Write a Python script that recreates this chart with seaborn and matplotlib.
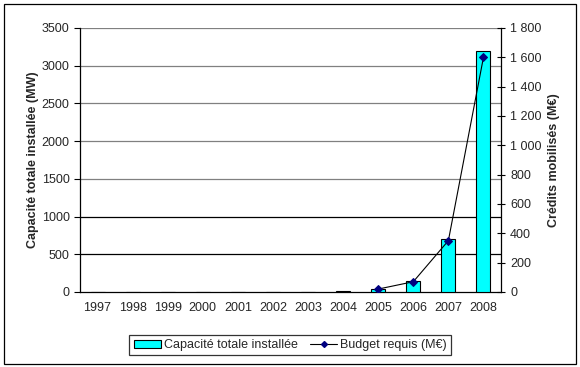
import numpy as np
import pandas as pd
import matplotlib.pyplot as plt
from matplotlib.patches import Patch, Rectangle
from matplotlib.lines import Line2D
import seaborn as sns

# === Data ===
years = ['1997', '1998', '1999', '2000', '2001', '2002',
         '2003', '2004', '2005', '2006', '2007', '2008']
capacity = [0, 0, 0, 0, 0, 6, 6, 10, 40, 140, 700, 3200]          # MW
budget = [np.nan] * 8 + [20, 70, 350, 1600]                        # M€

df = pd.DataFrame({'year': years, 'capacity': capacity, 'budget': budget})
df['pos'] = np.arange(len(df))

sns.set_style('white')
plt.rcParams['font.family'] = ['Liberation Sans', 'DejaVu Sans']

fig = plt.figure(figsize=(5.8, 3.67), dpi=100)
ax = fig.add_axes([80 / 580, (367 - 292) / 367, 421 / 580, 264 / 367])

# === Bars: installed capacity ===
sns.barplot(data=df, x='year', y='capacity', color='#00FFFF', saturation=1,
            edgecolor='black', linewidth=0.8, width=0.4, ax=ax, zorder=3)
ax.set_xlim(-0.5, len(years) - 0.5)
ax.set_ylim(0, 3500)
ax.set_yticks(range(0, 3501, 500))
ax.set_xlabel('')
ax.set_ylabel('Capacité totale installée (MW)', fontsize=9, fontweight='bold', labelpad=2)

# horizontal grid lines
for v in range(500, 3501, 500):
    ax.axhline(v, color='black' if v <= 1000 else '#808080', lw=0.9, zorder=1)

ax.tick_params(axis='x', length=0, labelsize=9, pad=7)
ax.set_xticks(np.arange(-0.5, len(years), 1), minor=True)
ax.tick_params(axis='x', which='minor', length=4, direction='out', color='black')
ax.tick_params(axis='y', length=4, direction='out', labelsize=9, color='black')
for s in ['left', 'bottom']:
    ax.spines[s].set_color('black')
    ax.spines[s].set_linewidth(0.9)
for s in ['top', 'right']:
    ax.spines[s].set_visible(False)

# === Line: required budget ===
ax2 = ax.twinx()
sns.lineplot(data=df, x='pos', y='budget', color='black', lw=0.8,
             marker='D', markersize=4, markerfacecolor='#000080',
             markeredgecolor='#000080', ax=ax2, zorder=4)
ax2.set_ylim(0, 1800)
ax2.set_yticks(range(0, 1801, 200))
ax2.set_yticklabels([f'{v:,}'.replace(',', ' ') for v in range(0, 1801, 200)])
ax2.set_ylabel('Crédits mobilisés (M€)', fontsize=9, fontweight='bold', labelpad=5)
ax2.tick_params(axis='y', length=6, direction='inout', labelsize=9, color='black')
ax2.spines['right'].set_color('black')
ax2.spines['right'].set_linewidth(0.9)
for s in ['top', 'left', 'bottom']:
    ax2.spines[s].set_visible(False)

# === Legend ===
handles = [Patch(facecolor='#00FFFF', edgecolor='black', lw=0.8),
           Line2D([], [], color='black', lw=0.8, marker='D', markersize=3,
                  markerfacecolor='#000080', markeredgecolor='#000080')]
leg = fig.legend(handles, ['Capacité totale installée', 'Budget requis (M€)'],
                 loc='center', bbox_to_anchor=(290 / 580, 1 - 345 / 367),
                 ncol=2, fontsize=9, frameon=True, fancybox=False,
                 handlelength=2.2, handletextpad=0.2, columnspacing=1.0,
                 borderpad=0.35, handleheight=0.6)
leg.get_frame().set_edgecolor('black')
leg.get_frame().set_linewidth(0.9)

# outer chart border
fig.patches.append(Rectangle((4 / 580, 3 / 367), 572 / 580, 360 / 367,
                             transform=fig.transFigure, fill=False,
                             edgecolor='black', lw=0.9))

fig.savefig('out.png', dpi=100)
